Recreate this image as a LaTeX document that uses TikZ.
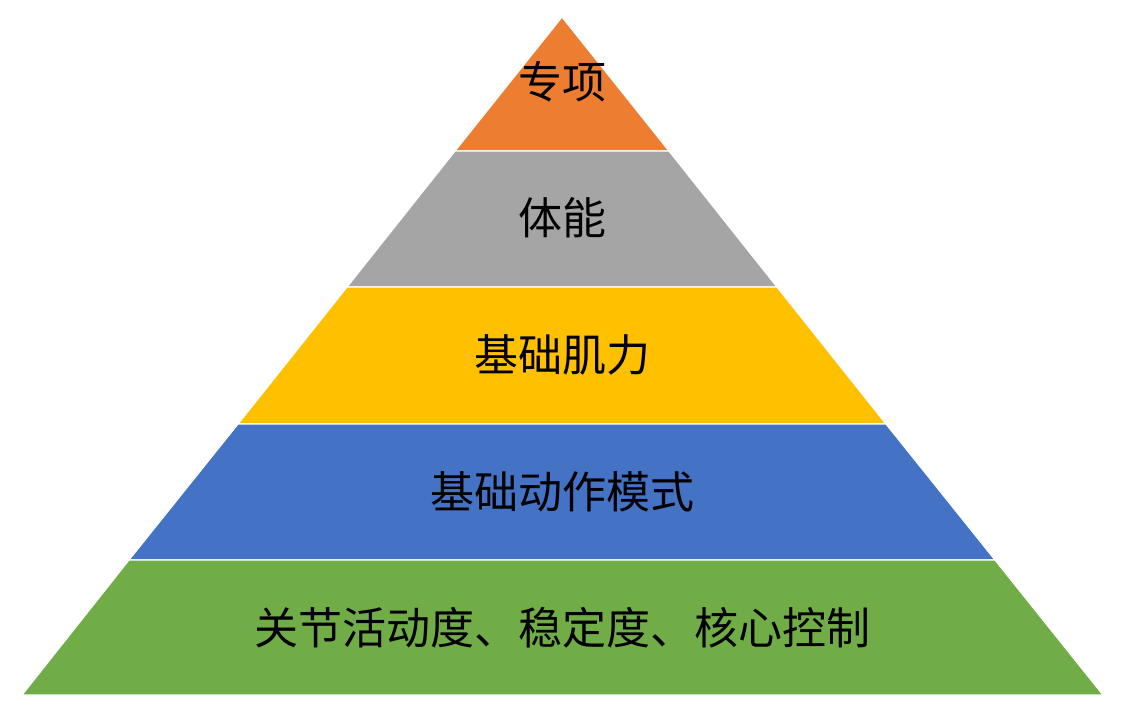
\documentclass[tikz,border=0pt]{standalone}
\usepackage{fontspec}
\newfontfamily\cjk{Noto Sans CJK SC}
\begin{document}
\begin{tikzpicture}[x=1pt,y=-1pt,
  layer/.style={draw=white,line width=1.2pt},
  lbl/.style={font=\cjk\fontsize{44}{50}\selectfont,text=black,inner sep=0pt}]
\useasboundingbox (0,0) rectangle (1131,716);
\fill[white] (0,0) rectangle (1131,716);
\filldraw[layer,fill={rgb,255:red,237;green,125;blue,49}] (562,17) -- (669,151) -- (455,151) -- cycle;
\filldraw[layer,fill={rgb,255:red,165;green,165;blue,165}] (455,151) -- (669,151) -- (777,287) -- (347,287) -- cycle;
\filldraw[layer,fill={rgb,255:red,255;green,192;blue,0}] (347,287) -- (777,287) -- (886,424) -- (238,424) -- cycle;
\filldraw[layer,fill={rgb,255:red,68;green,114;blue,196}] (238,424) -- (886,424) -- (995,560) -- (129,560) -- cycle;
\filldraw[layer,fill={rgb,255:red,112;green,173;blue,71}] (129,560) -- (995,560) -- (1103,695) -- (22,695) -- cycle;
\node[lbl] (t1) at (562,82) {专项};
\node[lbl] (t2) at (562,218) {体能};
\node[lbl] (t3) at (562,355) {基础肌力};
\node[lbl] (t4) at (562,492) {基础动作模式};
\node[lbl] (t5) at (562,628) {关节活动度、稳定度、核心控制};
\end{tikzpicture}
\end{document}
